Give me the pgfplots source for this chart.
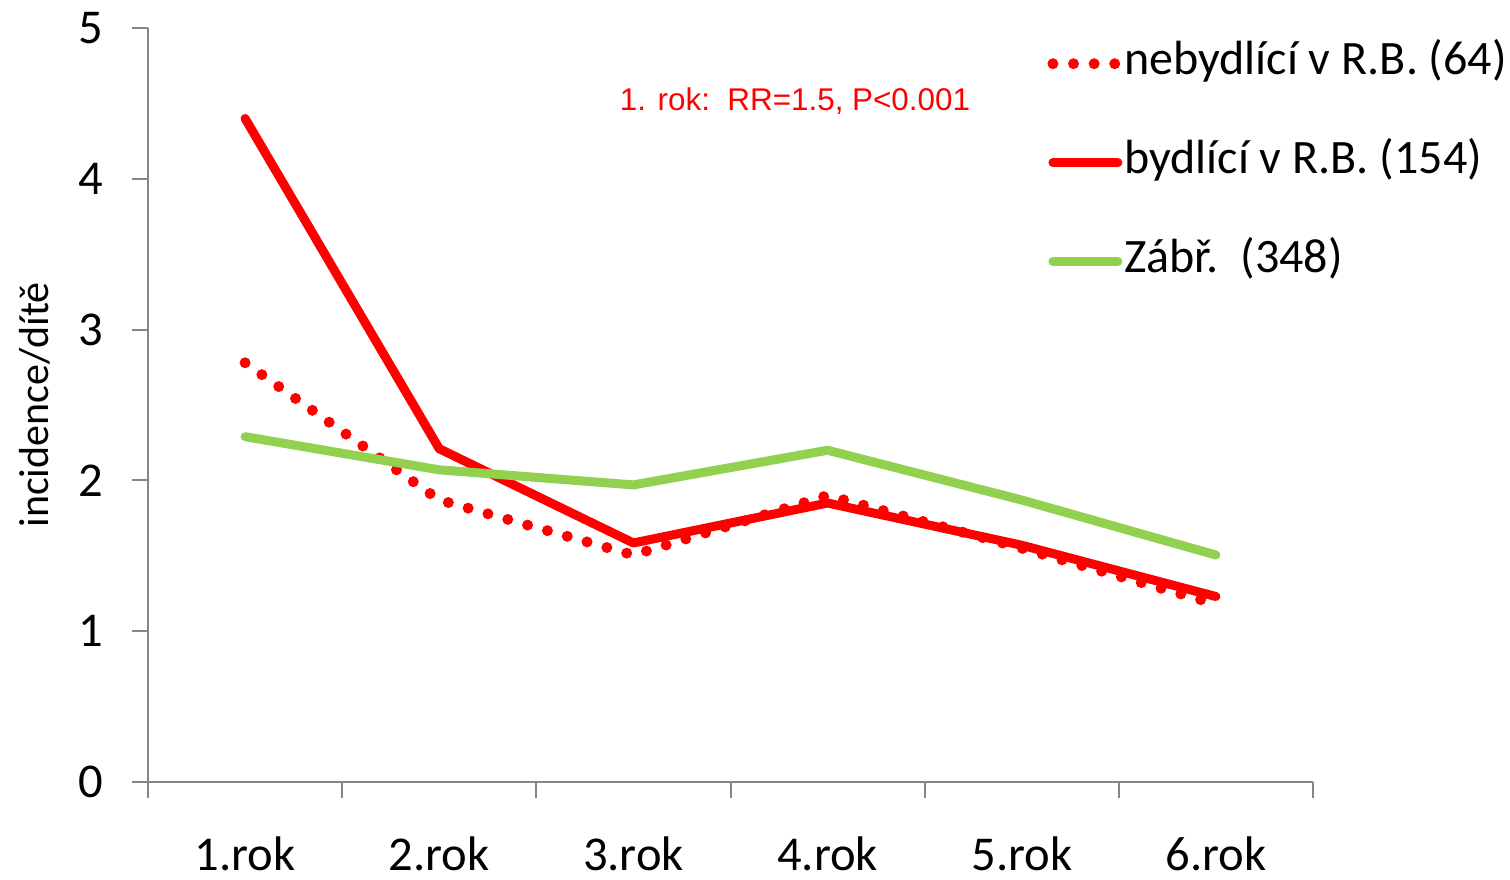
\documentclass[border=0pt]{standalone}
\usepackage{pgfplots}
\pgfplotsset{compat=1.18}
\usepackage{fontspec}
\setmainfont{Carlito}
\newfontfamily\arialfont{Liberation Sans}
\definecolor{xlred}{HTML}{FF0000}
\definecolor{xlgreen}{HTML}{92D050}
\definecolor{xlgray}{HTML}{868686}
\begin{document}
\begin{tikzpicture}
\begin{axis}[
  at={(0,0)}, anchor=south west,
  scale only axis,
  width=582.5pt, height=377pt,
  xmin=0.5, xmax=6.5,
  ymin=0, ymax=5,
  axis x line=bottom, axis y line=left,
  axis line style={-, xlgray, line width=1pt},
  tick align=outside,
  xtick={1,2,3,4,5,6},
  xticklabels={1.rok,2.rok,3.rok,4.rok,5.rok,6.rok},
  minor xtick={0.5,1.5,2.5,3.5,4.5,5.5,6.5},
  major x tick style={draw=none},
  minor x tick style={xlgray, line width=1pt},
  minor tick length=8pt,
  ytick={0,1,2,3,4,5},
  y tick style={xlgray, line width=1pt},
  major tick length=8pt,
  ticklabel style={font=\fontsize{24.3}{28}\selectfont},
  /pgf/number format/assume math mode=true,
  xticklabel style={yshift=-18.5pt, text depth=0pt, inner sep=0.5pt},
  yticklabel style={xshift=-11pt},
  ylabel={incidence/dítě},
  every axis y label/.style={at={(axis description cs:-0.097,0.5)}, rotate=90, anchor=center, font=\fontsize{21}{24}\selectfont},
  legend style={draw=none, fill=none, at={(rel axis cs:0.7717,0.985)}, anchor=north west,
    font=\fontsize{24}{28}\selectfont, inner sep=0pt, row sep=25.5pt,
    nodes={inner sep=0.5pt, text height=17pt, text depth=6pt}},
  legend cell align=left,
  legend image code/.code={\draw[#1] (1.5pt,0pt) -- (34pt,0pt);},
  line join=round,
]
\addplot[xlred, line width=5.5pt, line cap=round, dash pattern=on 0pt off 10.3pt] coordinates {
  (1,2.78)(2,1.87)(3,1.505)(4,1.90)(5,1.55)(6,1.18)
};
\addlegendentry{nebydlící v R.B. (64)}
\addplot[xlred, line width=4.5pt, line cap=round] coordinates {
  (1,4.40)(2,2.21)(3,1.585)(4,1.85)(5,1.57)(6,1.23)
};
\addlegendentry{bydlící v R.B. (154)}
\addplot[xlgreen, line width=4.5pt, line cap=round] coordinates {
  (1,2.29)(2,2.07)(3,1.97)(4,2.20)(5,1.87)(6,1.505)
};
\addlegendentry{Zábř.\ \ (348)}
\node[text=xlred, font=\arialfont\fontsize{15.7}{18}\selectfont] at (axis cs:3.832,4.516) {1. rok:\ \ RR=1.5, P<0.001};
\end{axis}
\pgfresetboundingbox
\path[use as bounding box] (-74pt,-48.5pt) rectangle (681pt,391pt);
\end{tikzpicture}
\end{document}
